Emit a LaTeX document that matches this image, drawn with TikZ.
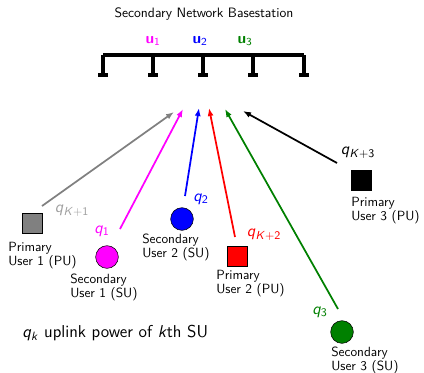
\documentclass[tikz,border=0pt]{standalone}
\usetikzlibrary{arrows.meta}
\definecolor{dgreen}{RGB}{0,128,0}
\definecolor{mag}{RGB}{255,0,255}
\definecolor{lgray}{RGB}{160,160,160}
\definecolor{mgray}{RGB}{128,128,128}
\newcommand{\qs}[1]{\textit{q}\textsubscript{#1}}
\begin{document}
\begin{tikzpicture}[x=0.75pt,y=-0.75pt,font=\sffamily,
  bus/.style={line width=2.6pt},
  lbl/.style={align=left,anchor=north west,inner sep=0pt,font=\sffamily\fontsize{10}{10.4}\selectfont},
  pu/.style={draw=black,minimum size=15pt,inner sep=0pt},
  su/.style={circle,draw=black,minimum size=17pt,inner sep=0pt},
  link/.style={line width=1.3pt,-{Latex[length=6pt,width=4.5pt]}},
  ql/.style={inner sep=0pt,font=\sffamily\fontsize{12.5}{13}\selectfont}]
\useasboundingbox (0,0) rectangle (424,372);
% title
\node[font=\sffamily\fontsize{10.2}{11}\selectfont] (title) at (204,14) {Secondary Network Basestation};
\node[mag,font=\sffamily\fontsize{11.5}{12}\selectfont] (u1) at (153,41) {\textbf{u}\textsubscript{1}};
\node[blue,font=\sffamily\fontsize{11.5}{12}\selectfont] (u2) at (200,41) {\textbf{u}\textsubscript{2}};
\node[dgreen,font=\sffamily\fontsize{11.5}{12}\selectfont] (u3) at (245,41) {\textbf{u}\textsubscript{3}};
% bus
\draw[bus] (103,55) -- (304,55);
\foreach \x in {103,153,203,253,304}{
  \draw[bus] (\x,55) -- (\x,75);
  \draw[bus] (\x-5,75) -- (\x+5,75);
}
% users
\node[pu,fill=mgray] (pu1) at (32,223) {};
\node[lbl] (pu1l) at (8,242) {Primary\\User 1 (PU)};
\node[su,fill=mag] (su1) at (107,257) {};
\node[lbl] (su1l) at (70,274) {Secondary\\User 1 (SU)};
\node[su,fill=blue] (su2) at (182,219) {};
\node[lbl] (su2l) at (142,234) {Secondary\\User 2 (SU)};
\node[pu,fill=red] (pu2) at (237,256) {};
\node[lbl] (pu2l) at (216,270) {Primary\\User 2 (PU)};
\node[pu,fill=black] (pu3) at (361,180) {};
\node[lbl] (pu3l) at (351,197) {Primary\\User 3 (PU)};
\node[su,fill=dgreen] (su3) at (342,332) {};
\node[lbl] (su3l) at (331,347) {Secondary\\User 3 (SU)};
% arrow coordinates
\coordinate (s1) at (42,206);   \coordinate (t1) at (174,112);
\coordinate (s2) at (120,229);  \coordinate (t2) at (183,109);
\coordinate (s3) at (185,196);  \coordinate (t3) at (199,108);
\coordinate (s4) at (235,237);  \coordinate (t4) at (209,108);
\coordinate (s5) at (338,309);  \coordinate (t5) at (225,109);
\coordinate (s6) at (337,163);  \coordinate (t6) at (243,111);
\draw[link,mgray] (s1) -- (t1);
\draw[link,mag] (s2) -- (t2);
\draw[link,blue] (s3) -- (t3);
\draw[link,red] (s4) -- (t4);
\draw[link,dgreen] (s5) -- (t5);
\draw[link,black] (s6) -- (t6);
% power labels
\node[ql,lgray] (qk1) at (72,211) {\qs{\textit{K}+1}};
\node[ql,mag] (q1) at (102,231) {\qs{1}};
\node[ql,blue] (q2) at (201,199) {\qs{2}};
\node[ql,red] (qk2) at (264,235) {\qs{\textit{K}+2}};
\node[ql,black] (qk3) at (358,153) {\qs{\textit{K}+3}};
\node[ql,dgreen] (q3) at (320,312) {\qs{3}};
% legend
\node[anchor=west,inner sep=0pt,font=\sffamily\fontsize{12.9}{14}\selectfont] (legend) at (22,333) {\qs{\textit{k}} uplink power of \textit{k}th SU};
\end{tikzpicture}
\end{document}
